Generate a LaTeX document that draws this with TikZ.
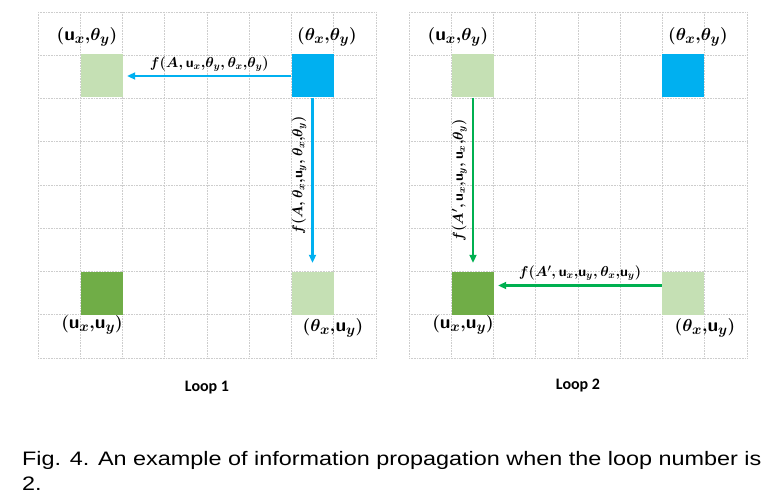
\documentclass[tikz,border=0pt]{standalone}
\usepackage{graphicx}
\usepackage{fontspec}
\setmainfont{Liberation Serif}
\newfontfamily\loopfont{Carlito}
\newfontfamily\capfont{Liberation Sans}
\usetikzlibrary{arrows.meta}
\definecolor{cblue}{RGB}{0,176,240}
\definecolor{cgreen}{RGB}{0,176,80}
\definecolor{lgreen}{RGB}{197,224,180}
\definecolor{dgreen}{RGB}{112,173,71}
\definecolor{gridc}{RGB}{205,205,205}
\newcommand{\cm}{\mathord{,}}
\begin{document}
\begin{tikzpicture}[x=1pt,y=-1pt,
  gridline/.style={gridc,densely dotted,line width=0.6pt},
  cell/.style={draw=none,minimum width=42pt,minimum height=43pt,inner sep=0pt},
  lightcell/.style={cell,fill=lgreen},
  darkcell/.style={cell,fill=dgreen},
  bluecell/.style={cell,fill=cblue},
  bigtext/.style={font=\fontsize{19}{21}\selectfont\boldmath,inner sep=0pt},
  edgetext/.style={text=black,font=\fontsize{14}{16}\selectfont\boldmath,inner sep=0pt},
  blarrow/.style={cblue,line width=2.2pt,-{Triangle[length=8pt,width=7pt]}},
  grarrow/.style={cgreen,line width=2.2pt,-{Triangle[length=8pt,width=7pt]}},
  looptext/.style={font=\loopfont\bfseries\fontsize{16}{18}\selectfont,inner sep=0pt}
]
\useasboundingbox (0,0) rectangle (774,500);
% grids
\foreach \ox in {38,409}{
  \foreach \i in {0,...,8}{
    \draw[gridline] (\ox+\i*42.25,12) -- (\ox+\i*42.25,358);
    \draw[gridline] (\ox,12+\i*43.25) -- (\ox+338,12+\i*43.25);
  }
}
% Loop 1 cells
\node[lightcell] (a1) at (102,76) {};
\node[bluecell]  (b1) at (312.5,76) {};
\node[darkcell]  (c1) at (102,293.5) {};
\node[lightcell] (d1) at (312.5,293.5) {};
% Loop 2 cells
\node[lightcell] (a2) at (473,76) {};
\node[bluecell]  (b2) at (683,76) {};
\node[darkcell]  (c2) at (473,293.5) {};
\node[lightcell] (d2) at (683,293.5) {};
% labels
\node[bigtext] (la1) at (87,37) {$(\mathsf{u}_x\cm\theta_y)$};
\node[bigtext] (lb1) at (327,37) {$(\theta_x\cm\theta_y)$};
\node[bigtext] (lc1) at (92,325) {$(\mathsf{u}_x\cm\mathsf{u}_y)$};
\node[bigtext] (ld1) at (333,328) {$(\theta_x\cm\mathsf{u}_y)$};
\node[bigtext] (la2) at (458,37) {$(\mathsf{u}_x\cm\theta_y)$};
\node[bigtext] (lb2) at (698,37) {$(\theta_x\cm\theta_y)$};
\node[bigtext] (lc2) at (463,325) {$(\mathsf{u}_x\cm\mathsf{u}_y)$};
\node[bigtext] (ld2) at (705,328) {$(\theta_x\cm\mathsf{u}_y)$};
% arrows loop 1
\draw[blarrow] (b1.west) -- ([xshift=4pt]a1.east)
  node[edgetext,midway,above=3pt] {$f(A, \mathsf{u}_x\cm\theta_y\cm\,\theta_x\cm\theta_y)$};
\draw[blarrow] (b1.south) -- ([yshift=9pt]d1.north)
  node[edgetext,pos=0.47,rotate=90,above=5pt] {$f(A, \theta_x\cm\mathsf{u}_y\cm\,\theta_x\cm\theta_y)$};
% arrows loop 2
\draw[grarrow] (a2.south) -- ([yshift=9pt]c2.north)
  node[edgetext,pos=0.5,rotate=90,above=5pt] {$f(A', \mathsf{u}_x\cm\mathsf{u}_y\cm\,\mathsf{u}_x\cm\theta_y)$};
\draw[grarrow] ([yshift=8pt]d2.west) -- ([xshift=4pt,yshift=8pt]c2.east)
  node[edgetext,midway,above=4pt] {$f(A', \mathsf{u}_x\cm\mathsf{u}_y\cm\,\theta_x\cm\mathsf{u}_y)$};
% loop titles
\node[looptext] (t1) at (207,388) {Loop 1};
\node[looptext] (t2) at (578,386) {Loop 2};
% caption
\node[anchor=base west,inner sep=0pt,font=\capfont\fontsize{19.5}{22}\selectfont] (cap1) at (22,465) {\scalebox{1.2}[1]{Fig. 4. An example of information propagation when the loop number is}};
\node[anchor=base west,inner sep=0pt,font=\capfont\fontsize{19.5}{22}\selectfont] (cap2) at (22,490) {\scalebox{1.2}[1]{2.}};
\end{tikzpicture}
\end{document}
